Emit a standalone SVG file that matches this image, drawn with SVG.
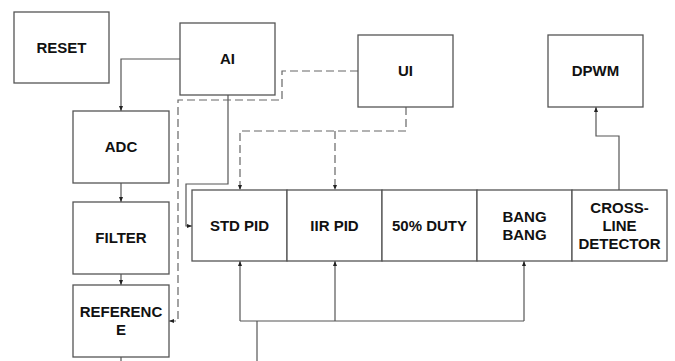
<svg xmlns="http://www.w3.org/2000/svg" width="675" height="361" viewBox="0 0 675 361">
<defs>
<marker id="ah" markerWidth="6" markerHeight="6" refX="5" refY="3" orient="auto" markerUnits="userSpaceOnUse">
<path d="M0,1 L5,3 L0,5 Z" fill="#222"/>
</marker>
<style>
.box{fill:#fff;stroke:#555;stroke-width:1.3}
.t{font-family:"Liberation Sans",Arial,sans-serif;font-weight:bold;font-size:15px;fill:#111;text-anchor:middle}
.c{fill:none;stroke:#555;stroke-width:1.2}
.d{fill:none;stroke:#666;stroke-width:1.2;stroke-dasharray:8 4}
</style>
</defs>
<rect width="675" height="361" fill="#fff"/>
<g id="connectors">
<path class="c" d="M180,59 H121 V111" marker-end="url(#ah)"/>
<path class="c" d="M121,183 V202" marker-end="url(#ah)"/>
<path class="c" d="M121,274 V285" marker-end="url(#ah)"/>
<path class="c" d="M121,357 V361"/>
<path class="c" d="M228,95 V184 H186 V226 H192" marker-end="url(#ah)"/>
<path class="d" d="M358,71 H282 V100 H178 V321 H169" marker-end="url(#ah)"/>
<path class="d" d="M406,107 V131 H240 V190" marker-end="url(#ah)"/>
<path class="d" d="M335,131 V190" marker-end="url(#ah)"/>
<path class="c" d="M619,190 V136 H596 V107" marker-end="url(#ah)"/>
<path class="c" d="M257,361 V321"/>
<path class="c" d="M240,321 H524"/>
<path class="c" d="M240,321 V261" marker-end="url(#ah)"/>
<path class="c" d="M335,321 V261" marker-end="url(#ah)"/>
<path class="c" d="M524,321 V261" marker-end="url(#ah)"/>
</g>
<g id="reset"><rect class="box" x="14" y="12" width="95" height="71"/><text class="t" x="61.5" y="52.5">RESET</text></g>
<g id="ai"><rect class="box" x="180" y="23" width="95" height="72"/><text class="t" x="227.5" y="64">AI</text></g>
<g id="ui"><rect class="box" x="358" y="35" width="95" height="72"/><text class="t" x="405.5" y="76">UI</text></g>
<g id="dpwm"><rect class="box" x="548" y="35" width="95" height="72"/><text class="t" x="595.5" y="76">DPWM</text></g>
<g id="adc"><rect class="box" x="73" y="111" width="96" height="72"/><text class="t" x="121" y="152">ADC</text></g>
<g id="filter"><rect class="box" x="73" y="202" width="96" height="72"/><text class="t" x="121" y="243">FILTER</text></g>
<g id="reference"><rect class="box" x="73" y="285" width="96" height="72"/><text class="t" x="121" y="317">REFERENC</text><text class="t" x="121" y="335">E</text></g>
<g id="stdpid"><rect class="box" x="192" y="190" width="95" height="71"/><text class="t" x="239.5" y="230.5">STD PID</text></g>
<g id="iirpid"><rect class="box" x="287" y="190" width="95" height="71"/><text class="t" x="334.5" y="230.5">IIR PID</text></g>
<g id="duty"><rect class="box" x="382" y="190" width="95" height="71"/><text class="t" x="429.5" y="230.5">50% DUTY</text></g>
<g id="bangbang"><rect class="box" x="477" y="190" width="95" height="71"/><text class="t" x="524.5" y="221.5">BANG</text><text class="t" x="524.5" y="239.5">BANG</text></g>
<g id="crossline"><rect class="box" x="572" y="190" width="95" height="71"/><text class="t" x="619.5" y="212.5">CROSS-</text><text class="t" x="619.5" y="230.5">LINE</text><text class="t" x="619.5" y="248.5">DETECTOR</text></g>
</svg>
